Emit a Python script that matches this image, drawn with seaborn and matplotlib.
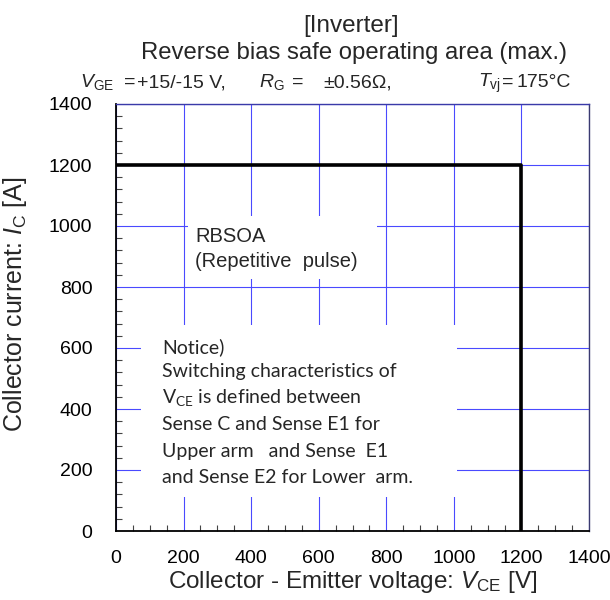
import matplotlib
matplotlib.use("Agg")
import matplotlib.pyplot as plt
from matplotlib.patches import Rectangle
from matplotlib.ticker import MultipleLocator
import seaborn as sns
import pandas as pd

# ---- data ----
vce_boundary = [0, 1200, 1200]
ic_boundary = [1200, 1200, 0]
x_ticks = [0, 200, 400, 600, 800, 1000, 1200, 1400]
y_ticks = [0, 200, 400, 600, 800, 1000, 1200, 1400]

title1 = "[Inverter]"
title2 = "Reverse bias safe operating area (max.)"
notice_lines = [
    "Notice)",
    "Switching characteristics of",
    r"V$_{\mathregular{CE}}$ is defined between",
    "Sense C and Sense E1 for",
    "Upper arm   and Sense  E1",
    "and Sense E2 for Lower  arm.",
]

sns.set_theme(style="ticks")
plt.rcParams['font.family'] = ['Liberation Sans', 'DejaVu Sans']
plt.rcParams['mathtext.fontset'] = 'custom'
plt.rcParams['mathtext.rm'] = 'Liberation Sans'
plt.rcParams['mathtext.it'] = 'Liberation Sans:italic'
plt.rcParams['mathtext.bf'] = 'Liberation Sans:bold'

W, H = 610, 600
fig = plt.figure(figsize=(6.1, 6.0), dpi=100)
ax = fig.add_axes([116 / W, 1 - 531 / H, (589 - 116) / W, (531 - 104) / H])

df = pd.DataFrame({"VCE": vce_boundary, "IC": ic_boundary})
sns.lineplot(data=df, x="VCE", y="IC", sort=False, estimator=None,
             color="black", linewidth=2.6, ax=ax, zorder=5)

ax.set_xlim(0, 1400)
ax.set_ylim(0, 1400)
ax.set_xticks(x_ticks)
ax.set_yticks(y_ticks)
ax.xaxis.set_minor_locator(MultipleLocator(50))
ax.yaxis.set_minor_locator(MultipleLocator(40))
ax.tick_params(axis='both', which='both', direction='in', top=False, right=False,
               color='#444444')
ax.tick_params(axis='both', which='major', length=0)
ax.tick_params(axis='both', which='minor', length=4, width=0.8)
ax.tick_params(axis='x', which='major', labelsize=14, pad=13.5, labelcolor='black')
ax.tick_params(axis='y', which='major', labelsize=14, pad=17, labelcolor='black')

ax.grid(True, which='major', color='#4a4aff', linewidth=0.8, zorder=1)
ax.set_axisbelow(True)

for s in ['left', 'bottom']:
    ax.spines[s].set_color('black')
    ax.spines[s].set_linewidth(1.3)
ax.spines['top'].set_color('#3a3aa8')
ax.spines['top'].set_linewidth(1.0)
ax.spines['right'].set_color('#3a3a70')
ax.spines['right'].set_linewidth(1.0)

ax.set_xlabel("")
ax.set_ylabel("")

# white boxes hiding grid behind annotations
ax.add_patch(Rectangle((213, 825), 772 - 213, 1032 - 825, facecolor='white',
                       edgecolor='none', zorder=2))
ax.add_patch(Rectangle((74, 112), 1009 - 74, 677 - 112, facecolor='white',
                       edgecolor='none', zorder=2))


def px2data(px, py):
    return (px - 116) / (589 - 116) * 1400, (531 - py) / (531 - 104) * 1400


x0, y0 = px2data(195, 242)
ax.text(x0, y0, "RBSOA", fontsize=14.5, ha='left', va='baseline', zorder=6)
x0, y0 = px2data(195, 267)
ax.text(x0, y0, "(Repetitive  pulse)", fontsize=14.5, ha='left', va='baseline', zorder=6)

ys = [353, 377, 403, 430, 457, 483]
for line, py in zip(notice_lines, ys):
    xx, yy = px2data(162, py)
    ax.text(xx, yy, line, fontsize=14, family=['Lato', 'DejaVu Sans'],
            ha='left', va='baseline', zorder=6)


def ftext(px, py, s, **kw):
    fig.text(px / W, 1 - py / H, s, **kw)


# titles
ftext(351, 32, title1, fontsize=17.5, ha='center', va='baseline')
ftext(354, 59, title2, fontsize=17.2, ha='center', va='baseline')
pfs = 14
ftext(114, 87, r"$V_{\mathrm{GE}}$", fontsize=pfs, ha='right', va='baseline')
ftext(124, 87, "=", fontsize=pfs, ha='left', va='baseline')
ftext(137, 87, "+15/-15 V,", fontsize=pfs, ha='left', va='baseline')
ftext(259, 87, r"$R_{\mathrm{G}}$", fontsize=pfs, ha='left', va='baseline')
ftext(292, 87, "=", fontsize=pfs, ha='left', va='baseline')
ftext(323, 87, "±0.56Ω,", fontsize=pfs, ha='left', va='baseline')
ftext(478, 87, r"$T_{\mathrm{vj}}$", fontsize=pfs, ha='left', va='baseline')
ftext(502, 87, "=", fontsize=pfs, ha='left', va='baseline')
ftext(517, 87, "175°C", fontsize=pfs, ha='left', va='baseline')

# axis labels
ftext(15, 304, r"Collector current: $I_{\mathrm{C}}$ [A]", fontsize=18,
      rotation=90, ha='center', va='center')
ftext(353, 588, r"Collector - Emitter voltage: $V_{\mathrm{CE}}$ [V]",
      fontsize=17.5, ha='center', va='baseline')

fig.savefig("out.png", dpi=100, facecolor='white')
